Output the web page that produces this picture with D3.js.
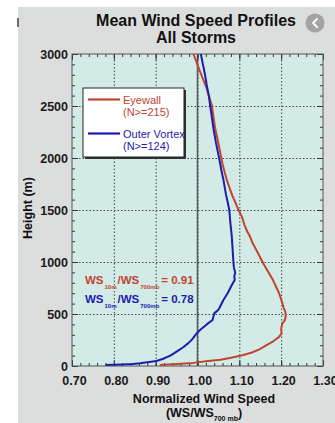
<!DOCTYPE html>
<html>
<head>
<meta charset="utf-8">
<script src="https://cdn.jsdelivr.net/npm/d3@7"></script>
<style>
  html, body { margin: 0; padding: 0; background: #ffffff; }
  svg { display: block; font-family: "Liberation Sans", Arial, sans-serif; }
</style>
</head>
<body>
<svg id="chart" width="335" height="423"></svg>
<script>
// Mean wind speed profiles, normalised by the 700 mb wind speed
const eyewallHeight = [10, 20, 30, 45, 60, 80, 106, 130, 160, 200, 240, 280, 314, 350, 380, 410, 442, 480, 520, 560, 600, 640, 700, 760, 830, 900, 980, 1050, 1120, 1180, 1240, 1300, 1360, 1436, 1500, 1560, 1640, 1720, 1790, 1860, 1940, 2060, 2180, 2290, 2400, 2510, 2600, 2670, 2750, 2830, 2920, 3000];
const eyewallSpeed  = [0.91, 0.95, 0.99, 1.02, 1.055, 1.08, 1.11, 1.13, 1.148, 1.165, 1.182, 1.195, 1.201, 1.200, 1.201, 1.203, 1.209, 1.211, 1.210, 1.206, 1.203, 1.200, 1.195, 1.188, 1.180, 1.170, 1.158, 1.149, 1.140, 1.132, 1.126, 1.118, 1.112, 1.106, 1.098, 1.092, 1.083, 1.076, 1.070, 1.065, 1.060, 1.054, 1.048, 1.042, 1.038, 1.034, 1.027, 1.022, 1.014, 1.006, 0.998, 0.990];

const vortexHeight = [10, 12, 15, 20, 26, 35, 48, 70, 100, 138, 180, 220, 260, 314, 346, 400, 442, 506, 540, 580, 635, 700, 762, 800, 827, 860, 900, 950, 990, 1050, 1120, 1180, 1243, 1320, 1400, 1500, 1580, 1650, 1720, 1790, 1860, 1950, 2030, 2150, 2286, 2400, 2510, 2600, 2702, 2800, 2900, 3000];
const vortexSpeed  = [0.78, 0.80, 0.82, 0.845, 0.863, 0.88, 0.902, 0.918, 0.935, 0.950, 0.966, 0.978, 0.988, 0.998, 1.006, 1.022, 1.036, 1.040, 1.050, 1.055, 1.062, 1.072, 1.080, 1.085, 1.089, 1.088, 1.090, 1.087, 1.086, 1.085, 1.084, 1.083, 1.082, 1.080, 1.078, 1.076, 1.072, 1.068, 1.065, 1.062, 1.058, 1.054, 1.050, 1.044, 1.038, 1.034, 1.030, 1.027, 1.022, 1.018, 1.013, 1.008];

const seriesNames = ["Eyewall", "Outer Vortex"];
const seriesCounts = ["(N>=215)", "(N>=124)"];
const surfaceRatios = [0.91, 0.78];
const surfaceSubscripts = ["10m", "10m"];

const xTicks = [0.70, 0.80, 0.90, 1.00, 1.10, 1.20, 1.30];
const yTicks = [0, 500, 1000, 1500, 2000, 2500, 3000];

const RED = "#c0452f", BLUE = "#1c1cae";
const colors = [RED, BLUE];

const svg = d3.select("#chart");
const m = { left: 72, right: 323, top: 54, bottom: 366 };

// page backdrop
svg.append("rect").attr("x", 18).attr("y", 7).attr("width", 317).attr("height", 416).attr("fill", "#dcdddd");
svg.append("rect").attr("x", 17).attr("y", 18).attr("width", 2).attr("height", 9).attr("fill", "#6a6a6a");

// back button
const btn = svg.append("g").attr("transform", "translate(315,23)");
btn.append("circle").attr("r", 9.5).attr("fill", "#a3a3a3");
btn.append("path").attr("d", "M2,-4 L-2,0 L2,4").attr("fill", "none").attr("stroke", "#fff")
  .attr("stroke-width", 1.8).attr("stroke-linecap", "round").attr("stroke-linejoin", "round");

const x = d3.scaleLinear().domain([0.70, 1.30]).range([m.left, m.right]);
const y = d3.scaleLinear().domain([0, 3000]).range([m.bottom, m.top]);

// plot area
svg.append("rect").attr("x", m.left).attr("y", m.top)
  .attr("width", m.right - m.left).attr("height", m.bottom - m.top).attr("fill", "#d3ebe7");

// dotted grid
const gridX = svg.append("g").attr("transform", `translate(0,${m.bottom})`)
  .call(d3.axisBottom(x).tickValues(xTicks.slice(1, -1)).tickSize(-(m.bottom - m.top)).tickFormat(""));
const gridY = svg.append("g").attr("transform", `translate(${m.left},0)`)
  .call(d3.axisLeft(y).tickValues(yTicks.slice(1, -1)).tickSize(-(m.right - m.left)).tickFormat(""));
[gridX, gridY].forEach(g => {
  g.select(".domain").remove();
  g.selectAll("line").attr("stroke", "#444").attr("stroke-width", 1).attr("stroke-dasharray", "1.5,2");
});

// reference line at 1.00
svg.append("line").attr("x1", x(1)).attr("x2", x(1)).attr("y1", m.top).attr("y2", m.bottom)
  .attr("stroke", "#555").attr("stroke-width", 1.5);

// inward ticks on all four sides
const xMinor = d3.range(0.70, 1.3001, 0.02);
const yMinor = d3.range(0, 3001, 100);
function ticks(axisFn, scale, vals, size, tx, ty) {
  const g = svg.append("g").attr("transform", `translate(${tx},${ty})`)
    .call(axisFn(scale).tickValues(vals).tickSize(size).tickFormat(""));
  g.select(".domain").remove();
  g.selectAll("line").attr("stroke", "#333").attr("stroke-width", 1);
}
ticks(d3.axisBottom, x, xMinor, -3, 0, m.bottom);
ticks(d3.axisTop, x, xMinor, -3, 0, m.top);
ticks(d3.axisLeft, y, yMinor, -3, m.left, 0);
ticks(d3.axisRight, y, yMinor, -3, m.right, 0);
ticks(d3.axisBottom, x, xTicks, -6, 0, m.bottom);
ticks(d3.axisTop, x, xTicks, -6, 0, m.top);
ticks(d3.axisLeft, y, yTicks, -6, m.left, 0);
ticks(d3.axisRight, y, yTicks, -6, m.right, 0);

// frame
svg.append("rect").attr("x", m.left).attr("y", m.top)
  .attr("width", m.right - m.left).attr("height", m.bottom - m.top)
  .attr("fill", "none").attr("stroke", "#555").attr("stroke-width", 1);

// tick labels
const xl = svg.append("g").attr("transform", `translate(0,${m.bottom})`)
  .call(d3.axisBottom(x).tickValues(xTicks).tickSize(0).tickPadding(10).tickFormat(d3.format(".2f")));
const yl = svg.append("g").attr("transform", `translate(${m.left},0)`)
  .call(d3.axisLeft(y).tickValues(yTicks).tickSize(0).tickPadding(4).tickFormat(d3.format("d")));
[xl, yl].forEach(g => {
  g.select(".domain").remove();
  g.selectAll("text").attr("font-family", "Liberation Sans, Arial, sans-serif")
    .attr("font-size", 12.5).attr("font-weight", "bold").attr("fill", "#1a1a1a");
});
xl.selectAll("text").attr("dx", 2);

// profiles
const line = d3.line().x(d => x(d[0])).y(d => y(d[1]));
const profiles = [
  d3.zip(eyewallSpeed, eyewallHeight),
  d3.zip(vortexSpeed, vortexHeight)
];
const clip = svg.append("clipPath").attr("id", "plotclip");
clip.append("rect").attr("x", m.left).attr("y", m.top - 2).attr("width", m.right - m.left).attr("height", m.bottom - m.top + 2);
svg.append("g").attr("clip-path", "url(#plotclip)").selectAll("path").data(profiles).join("path")
  .attr("d", line).attr("fill", "none").attr("stroke", (d, i) => colors[i])
  .attr("stroke-width", 2).attr("stroke-linejoin", "round");

// legend
const lg = svg.append("g");
lg.append("rect").attr("x", 85).attr("y", 90).attr("width", 101).attr("height", 69).attr("fill", "#333");
lg.append("rect").attr("x", 83).attr("y", 88).attr("width", 101).attr("height", 69)
  .attr("fill", "#fff").attr("stroke", "#222").attr("stroke-width", 1);
seriesNames.forEach((name, i) => {
  const yy = 99.5 + i * 34;
  lg.append("line").attr("x1", 88).attr("x2", 120).attr("y1", yy).attr("y2", yy)
    .attr("stroke", colors[i]).attr("stroke-width", 2.2);
  lg.append("text").attr("x", 123).attr("y", yy + 4.5).attr("font-size", 11).attr("fill", colors[i]).text(name);
  lg.append("text").attr("x", 123).attr("y", yy + 16.5).attr("font-size", 11).attr("fill", colors[i]).text(seriesCounts[i]);
});

// surface ratio annotations
surfaceRatios.forEach((v, i) => {
  const t = svg.append("text").attr("x", 85).attr("y", 284 + i * 18.5)
    .attr("font-size", 11.5).attr("font-weight", "bold").attr("fill", colors[i]);
  t.append("tspan").text("WS");
  t.append("tspan").attr("font-size", 6).attr("dy", 5).attr("dx", 1).text(surfaceSubscripts[i]);
  t.append("tspan").attr("dy", -5).attr("dx", 1).text("/WS");
  t.append("tspan").attr("font-size", 6).attr("dy", 5).attr("dx", 1).text("700mb");
  t.append("tspan").attr("dy", -5).attr("dx", 2).text("= " + d3.format(".2f")(v));
});

// titles
svg.append("text").attr("x", 196).attr("y", 26).attr("text-anchor", "middle")
  .attr("font-size", 16).attr("font-weight", "bold").attr("fill", "#111").text("Mean Wind Speed Profiles");
svg.append("text").attr("x", 196).attr("y", 43).attr("text-anchor", "middle")
  .attr("font-size", 16).attr("font-weight", "bold").attr("fill", "#111").text("All Storms");

svg.append("text").attr("transform", "translate(32,208) rotate(-90)").attr("text-anchor", "middle")
  .attr("font-size", 12.5).attr("font-weight", "bold").attr("fill", "#111").text("Height (m)");

svg.append("text").attr("x", 204).attr("y", 403).attr("text-anchor", "middle")
  .attr("font-size", 12.5).attr("font-weight", "bold").attr("fill", "#111").text("Normalized Wind Speed");
const sub = svg.append("text").attr("x", 204).attr("y", 417).attr("text-anchor", "middle")
  .attr("font-size", 12.5).attr("font-weight", "bold").attr("fill", "#111");
sub.append("tspan").text("(WS/WS");
sub.append("tspan").attr("font-size", 7).attr("dy", 4).text("700 mb");
sub.append("tspan").attr("dy", -4).text(")");
</script>
</body>
</html>
